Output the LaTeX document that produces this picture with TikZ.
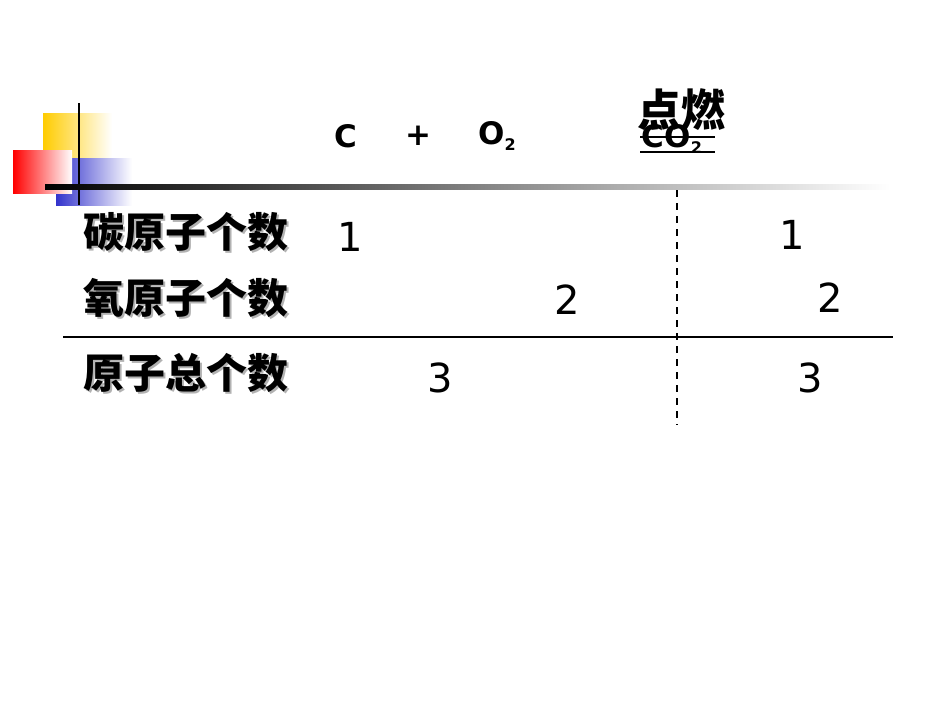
\documentclass[tikz,border=0pt]{standalone}
\usepackage{fontspec}
\setmainfont{DejaVu Sans}
\newfontfamily\cjk{Noto Sans CJK SC}
\definecolor{gold}{HTML}{FFCC00}
\definecolor{rblue}{HTML}{3333CC}
\begin{document}
\begin{tikzpicture}[x=1pt,y=-1pt,
  lab/.style={anchor=west,font=\cjk\fontsize{41}{41}\selectfont\bfseries,inner sep=0},
  num/.style={font=\fontsize{40}{40}\selectfont,inner sep=0},
  eq/.style={font=\fontsize{31}{31}\selectfont\bfseries,inner sep=0}]
\useasboundingbox (0,0) rectangle (950,713);
\shade[left color=gold,right color=white] (43,113) rectangle (112,180);
\shade[left color=rblue,right color=white] (56,158) rectangle (132,205);
\shade[left color=red,right color=white] (13,150) rectangle (72,193);
\draw[line width=2pt] (79,103) -- (79,205);
\shade[left color=black,right color=white] (45,184) rectangle (890,189);
% equation
\node[eq] (c) at (346,136) {C};
\node[eq] (p) at (418,136) {+};
\node[eq] (o) at (497,136) {O\raisebox{-0.3ex}{\fontsize{16}{16}\selectfont 2}};
\node[eq] (co) at (672,139) {CO\raisebox{-0.3ex}{\fontsize{16}{16}\selectfont 2}};
\node[font=\cjk\fontsize{44}{44}\selectfont\bfseries,inner sep=0] (dr) at (681,110) {点燃};
\draw[line width=1.5pt] (640,137) coordinate (l1a) -- (715,137) coordinate (l1b);
\draw[line width=1.5pt] (640,152) coordinate (l2a) -- (715,152) coordinate (l2b);
% table
\draw[line width=1.5pt] (63,337) coordinate (ha) -- (893,337) coordinate (hb);
\draw[line width=1.5pt,dash pattern=on 7pt off 6pt] (677,190) coordinate (va) -- (677,425) coordinate (vb);
\foreach \t/\y/\n in {碳原子个数/232/r1,氧原子个数/298/r2,原子总个数/373/r3}{
  \node[lab,gray!60] at (85,\y+2) {\t};
  \node[lab] (\n) at (83,\y) {\t};
}
\node[num] (a1) at (350,237) {1};
\node[num] (b1) at (792,235) {1};
\node[num] (a2) at (567,300) {2};
\node[num] (b2) at (830,298) {2};
\node[num] (a3) at (440,378) {3};
\node[num] (b3) at (810,378) {3};
\end{tikzpicture}
\end{document}
